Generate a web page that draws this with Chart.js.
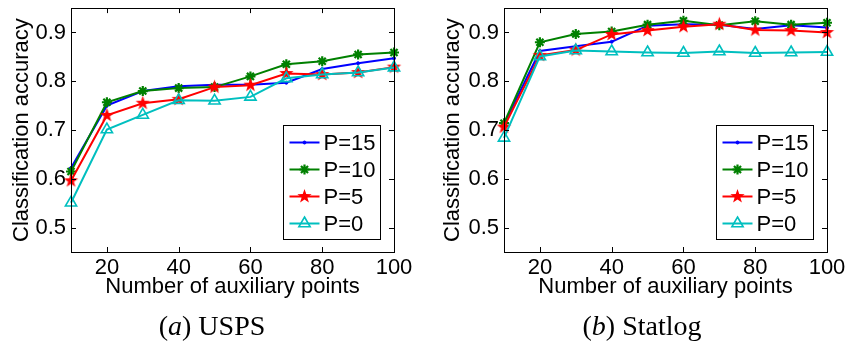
<!DOCTYPE html>
<html>
<head>
<meta charset="utf-8">
<script src="https://cdn.jsdelivr.net/npm/chart.js@4/dist/chart.umd.min.js"></script>
<style>
  body { margin: 0; background: #fff; width: 847px; height: 343px; position: relative; overflow: hidden; }
  .panel { position: absolute; top: 0; height: 343px; }
  .caption { position: absolute; top: 312px; font-family: "Liberation Serif", serif; font-size: 28px; line-height: 1; white-space: nowrap; transform: translateX(-50%); }
</style>
</head>
<body>
<div class="panel" style="left:0;width:423px"><canvas id="usps"></canvas></div>
<div class="panel" style="left:423px;width:424px"><canvas id="statlog"></canvas></div>
<div class="caption" style="left:212px">(<i>a</i>) USPS</div>
<div class="caption" style="left:642px">(<i>b</i>) Statlog</div>
<script>
const xValues = [10, 20, 30, 40, 50, 60, 70, 80, 90, 100]
const xTicks = [20, 40, 60, 80, 100]
const yTicks = [0.5, 0.6, 0.7, 0.8, 0.9]
const seriesLabels = ["P=15", "P=10", "P=5", "P=0"]

const uspsP15 = [0.622, 0.750, 0.780, 0.790, 0.793, 0.793, 0.797, 0.825, 0.837, 0.847]
const uspsP10 = [0.615, 0.757, 0.780, 0.786, 0.788, 0.810, 0.835, 0.841, 0.855, 0.859]
const uspsP5  = [0.596, 0.730, 0.755, 0.763, 0.788, 0.792, 0.816, 0.814, 0.818, 0.829]
const uspsP0  = [0.551, 0.701, 0.731, 0.761, 0.760, 0.768, 0.806, 0.814, 0.818, 0.828]

const statP15 = [0.712, 0.862, 0.872, 0.881, 0.914, 0.917, 0.916, 0.907, 0.915, 0.910]
const statP10 = [0.714, 0.880, 0.897, 0.902, 0.916, 0.924, 0.915, 0.923, 0.916, 0.920]
const statP5  = [0.706, 0.853, 0.864, 0.896, 0.904, 0.912, 0.917, 0.905, 0.904, 0.900]
const statP0  = [0.684, 0.851, 0.863, 0.861, 0.859, 0.858, 0.861, 0.858, 0.859, 0.860]

const FONT = "'Liberation Sans', Arial, sans-serif"

// filled pentagram marker (matlab 'p')
function pentagram(color, r) {
  const c = document.createElement("canvas")
  const s = Math.ceil(r * 2 + 2)
  c.width = s; c.height = s
  const g = c.getContext("2d")
  g.beginPath()
  for (let i = 0; i < 10; i++) {
    const rad = i % 2 === 0 ? r : r * 0.4
    const a = -Math.PI / 2 + i * Math.PI / 5
    g.lineTo(s / 2 + rad * Math.cos(a), s / 2 + rad * Math.sin(a))
  }
  g.closePath()
  g.fillStyle = color
  g.fill()
  return c
}

const styles = [
  { color: "#0000ff", pointStyle: "circle", radius: 1.5, fill: "#0000ff", bw: 1, order: 3 },
  { color: "#008000", pointStyle: "star", radius: 5, fill: "#008000", bw: 2.2, order: 2 },
  { color: "#ff0000", pointStyle: pentagram("#ff0000", 7.5), radius: 7, fill: "#ff0000", bw: 1, order: 1 },
  { color: "#00bfbf", pointStyle: "triangle", radius: 6.5, fill: "rgba(0,0,0,0)", bw: 1.6, order: 0 }
]

const boxPlugin = {
  id: "matlabBox",
  afterDraw(chart) {
    const ctx = chart.ctx
    const a = chart.chartArea
    const xs = chart.scales.x, ys = chart.scales.y
    ctx.save()
    ctx.strokeStyle = "#000"
    ctx.lineWidth = 1
    ctx.strokeRect(Math.round(a.left) + 0.5, Math.round(a.top) + 0.5, Math.round(a.right - a.left), Math.round(a.bottom - a.top))
    ctx.beginPath()
    xTicks.forEach(v => {
      const px = Math.round(xs.getPixelForValue(v)) + 0.5
      ctx.moveTo(px, a.bottom); ctx.lineTo(px, a.bottom - 5)
      ctx.moveTo(px, a.top); ctx.lineTo(px, a.top + 5)
    })
    yTicks.forEach(v => {
      const py = Math.round(ys.getPixelForValue(v)) + 0.5
      ctx.moveTo(a.left, py); ctx.lineTo(a.left + 5, py)
      ctx.moveTo(a.right, py); ctx.lineTo(a.right - 5, py)
    })
    ctx.stroke()

    // legend inside the axes, bottom right
    const bw = 97, bh = 114
    const bx = Math.round(a.right - 14 - bw) + 0.5
    const by = Math.round(a.bottom - 13 - bh) + 0.5
    ctx.fillStyle = "#fff"
    ctx.fillRect(bx, by, bw, bh)
    ctx.strokeRect(bx, by, bw, bh)
    ctx.font = "22px " + FONT
    ctx.textBaseline = "middle"
    ctx.textAlign = "left"
    seriesLabels.forEach((lab, i) => {
      const st = styles[i]
      const cy = by + 17 + i * 27
      ctx.strokeStyle = st.color
      ctx.lineWidth = 2
      ctx.beginPath()
      ctx.moveTo(bx + 6, cy); ctx.lineTo(bx + 36, cy)
      ctx.stroke()
      ctx.fillStyle = st.fill
      ctx.strokeStyle = st.color
      ctx.lineWidth = st.bw
      Chart.helpers.drawPoint(ctx, { pointStyle: st.pointStyle, radius: st.radius, rotation: 0, borderWidth: st.bw }, bx + 21, cy)
      ctx.fillStyle = "#000"
      ctx.fillText(lab, bx + 40, cy + 1)
    })
    ctx.restore()
  }
}

function makeChart(id, series, yAxisWidth, padRight, yTitlePad) {
  const ctx = document.getElementById(id).getContext("2d")
  return new Chart(ctx, {
    type: "line",
    data: {
      datasets: series.map((vals, i) => ({
        label: seriesLabels[i],
        data: xValues.map((x, j) => ({ x: x, y: vals[j] })),
        borderColor: styles[i].color,
        backgroundColor: styles[i].fill,
        pointBorderColor: styles[i].color,
        pointBackgroundColor: styles[i].fill,
        pointStyle: styles[i].pointStyle,
        pointRadius: styles[i].radius,
        pointBorderWidth: styles[i].bw,
        borderWidth: 2,
        tension: 0,
        clip: false,
        order: styles[i].order
      }))
    },
    options: {
      responsive: false,
      animation: false,
      devicePixelRatio: 1,
      events: [],
      layout: { padding: { top: 7, right: padRight, bottom: 45, left: 0 } },
      plugins: { legend: { display: false }, tooltip: { enabled: false } },
      scales: {
        x: {
          type: "linear",
          min: 10, max: 100,
          grid: { display: false, drawTicks: false },
          border: { display: false },
          afterBuildTicks: s => { s.ticks = xTicks.map(v => ({ value: v })) },
          afterFit: s => { s.height = 46; s.paddingLeft = 0; s.paddingRight = 0 },
          ticks: { color: "#000", padding: 5, maxRotation: 0, autoSkip: false, font: { family: FONT, size: 22, lineHeight: 1 } },
          title: { display: true, text: "Number of auxiliary points", color: "#000", padding: 0, font: { family: FONT, size: 22, lineHeight: 1 } }
        },
        y: {
          min: 0.45, max: 0.95,
          grid: { display: false, drawTicks: false },
          border: { display: false },
          afterBuildTicks: s => { s.ticks = yTicks.map(v => ({ value: v })) },
          afterFit: s => { s.width = yAxisWidth; s.paddingTop = 0; s.paddingBottom = 0 },
          ticks: { color: "#000", padding: 5, callback: v => v.toFixed(1), font: { family: FONT, size: 22, lineHeight: 1 } },
          title: { display: true, text: "Classification accuracy", color: "#000", padding: { top: yTitlePad, bottom: 0 }, font: { family: FONT, size: 22, lineHeight: 1 } }
        }
      }
    },
    plugins: [boxPlugin]
  })
}

document.getElementById("usps").width = 423
document.getElementById("usps").height = 343
document.getElementById("statlog").width = 424
document.getElementById("statlog").height = 343

makeChart("usps", [uspsP15, uspsP10, uspsP5, uspsP0], 71, 29, 11)
makeChart("statlog", [statP15, statP10, statP5, statP0], 81, 20, 19)
</script>
</body>
</html>
